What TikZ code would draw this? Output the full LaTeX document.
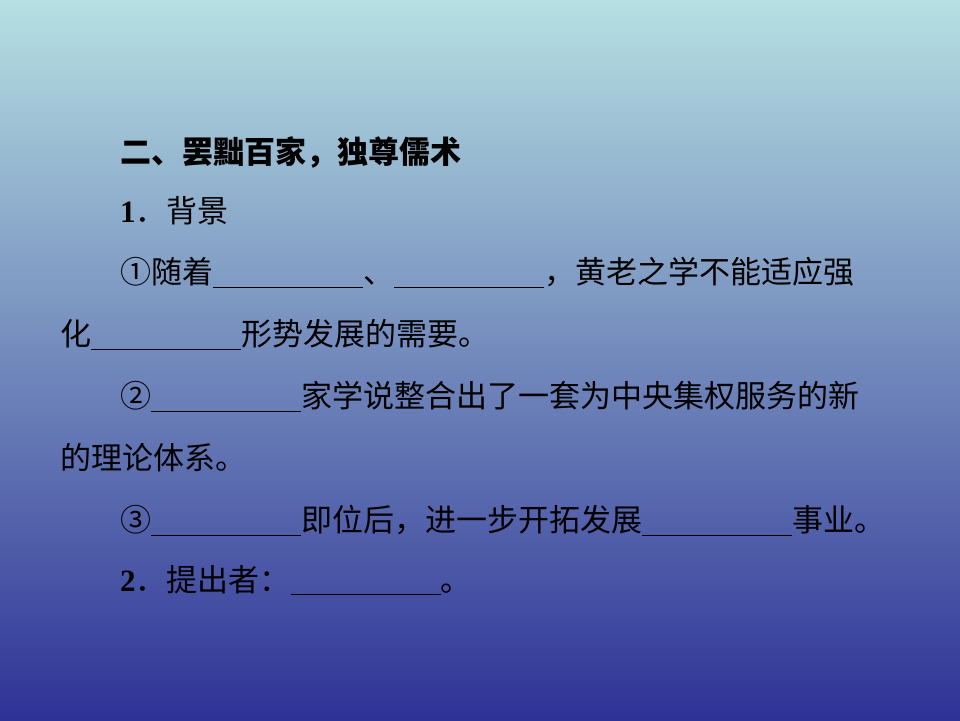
\documentclass[tikz,border=0pt]{standalone}
\usepackage{fontspec}
\newfontfamily\cjk{Noto Sans CJK SC}
\setmainfont{Liberation Serif}
\newcommand{\blank}{\rule[-0.12em]{150pt}{1.2pt}}
\tikzset{line/.style={anchor=base west, inner sep=0pt, font=\fontsize{31}{33}\selectfont\cjk}}

\begin{document}
\begin{tikzpicture}[x=1pt, y=1pt]
                \shade[top color={rgb,255:red,182;green,224;blue,226}, bottom color={rgb,255:red,46;green,50;blue,150}] (0,0) rectangle (960,720);

                \node[line] (title) at (120,556) {\textbf{二、罢黜百家，独尊儒术}};
                \node[line] (bg) at (120,497) {{\rmfamily\textbf{1}}．背景};
                \node[line] (one) at (120,436) {①随着\blank 、\blank ，黄老之学不能适应强};
                \node[line] (onecont) at (60,374) {化\blank 形势发展的需要。};
                \node[line] (two) at (120,312) {②\blank 家学说整合出了一套为中央集权服务的新};
                \node[line] (twocont) at (60,250) {的理论体系。};
                \node[line] (three) at (120,188) {③\blank 即位后，进一步开拓发展\blank 事业。};
                \node[line] (who) at (120,129) {{\rmfamily\textbf{2}}．提出者：\blank 。};
\end{tikzpicture}
\end{document}
